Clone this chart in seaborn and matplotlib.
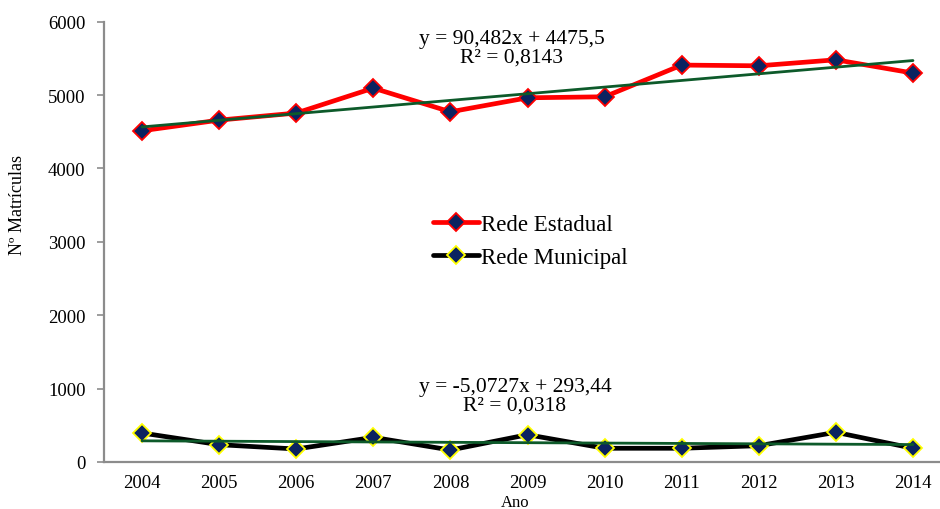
import numpy as np
import pandas as pd
import matplotlib
matplotlib.use("Agg")
import matplotlib.pyplot as plt
import seaborn as sns

# Matrículas por rede de ensino, 2004-2014
anos = ["2004", "2005", "2006", "2007", "2008", "2009",
        "2010", "2011", "2012", "2013", "2014"]
rede_estadual = [4514, 4659, 4755, 5095, 4772, 4963, 4977, 5409, 5399, 5481, 5300]
rede_municipal = [395, 236, 177, 336, 163, 372, 187, 187, 222, 405, 187]

# Linear trend coefficients (x = 1 .. n)
coef_estadual = (90.482, 4475.5)
r2_estadual = 0.8143
coef_municipal = (-5.0727, 293.44)
r2_municipal = 0.0318

sns.set_theme(style="white")
plt.rcParams["font.family"] = ["Liberation Serif", "DejaVu Serif"]
plt.rcParams["text.color"] = "black"

W, H, DPI = 940, 510, 100
fig = plt.figure(figsize=(W / DPI, H / DPI), dpi=DPI)

# axes in pixel coordinates
left, right, bottom, top = 103.5, 951.5, 463.0, 22.7
ax = fig.add_axes([left / W, (H - bottom) / H, (right - left) / W, (bottom - top) / H])

pos = np.arange(len(anos))
df = pd.DataFrame({"pos": pos, "estadual": rede_estadual, "municipal": rede_municipal})

navy = "#0b2360"
green = "#0d5a2a"

sns.lineplot(data=df, x="pos", y="estadual", ax=ax, color="#ff0000", linewidth=3.4,
             marker="D", markersize=9.5, markerfacecolor=navy, markeredgecolor="#ff0000",
             markeredgewidth=1.3, label="Rede Estadual", zorder=3)
sns.lineplot(data=df, x="pos", y="municipal", ax=ax, color="black", linewidth=3.4,
             marker="D", markersize=9.5, markerfacecolor=navy, markeredgecolor="#ffff00",
             markeredgewidth=1.3, label="Rede Municipal", zorder=3)

# trend lines
xt = pos + 1
trend_e = coef_estadual[0] * xt + coef_estadual[1]
trend_m = coef_municipal[0] * xt + coef_municipal[1]
sns.lineplot(x=pos, y=trend_e, ax=ax, color=green, linewidth=2.0, zorder=4, legend=False)
sns.lineplot(x=pos, y=trend_m, ax=ax, color=green, linewidth=2.0, zorder=4, legend=False)

ax.set_xlim(-0.5, len(anos) - 0.5)
ax.set_ylim(0, 6000)
ax.set_yticks(range(0, 6001, 1000))
ax.set_xticks(pos)
ax.set_xticklabels(anos)
ax.set_xlabel("")
ax.set_ylabel("")

for s in ["top", "right"]:
    ax.spines[s].set_visible(False)
for s in ["left", "bottom"]:
    ax.spines[s].set_color("#8c8c8c")
    ax.spines[s].set_linewidth(1.6)

ax.tick_params(axis="y", which="major", left=True, length=5, width=1.2, color="#8c8c8c",
               direction="out", pad=8, labelsize=13.5, labelcolor="black")
ax.tick_params(axis="x", which="major", bottom=False, length=0, pad=9,
               labelsize=13.5, labelcolor="black")


def fmt(v, nd):
    return f"{v:.{nd}f}".replace(".", ",")


eq_e = f"y = {fmt(coef_estadual[0], 3)}x + {fmt(coef_estadual[1], 1)}\nR² = {fmt(r2_estadual, 4)}"
eq_m = f"y = {fmt(coef_municipal[0], 4)}x + {fmt(coef_municipal[1], 2)}\nR² = {fmt(r2_municipal, 4)}"
fig.text(512 / W, 1 - 49 / H, eq_e, ha="center", va="center", fontsize=15.5,
         linespacing=1.0)
fig.text(515 / W, 1 - 397 / H, eq_m, ha="center", va="center", fontsize=15.5,
         linespacing=1.0)

leg = ax.legend(loc="center left", bbox_to_anchor=(424 / W, 1 - 242 / H),
                bbox_transform=fig.transFigure, frameon=False, fontsize=16.5,
                handlelength=2.0, handletextpad=0.1, labelspacing=0.55,
                borderaxespad=0)

fig.text(18 / W, 1 - 205 / H, "Nº Matrículas", rotation=90, ha="center", va="center",
         fontsize=13)
fig.text(515 / W, 1 - 503 / H, "Ano", ha="center", va="center", fontsize=12)

fig.savefig("out.png", dpi=DPI, facecolor="white")
